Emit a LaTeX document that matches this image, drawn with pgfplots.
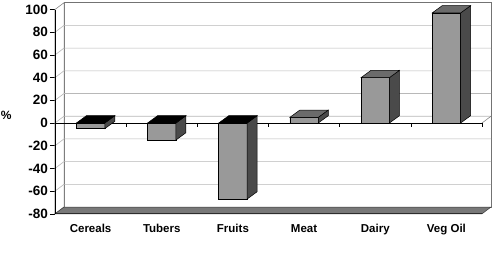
\documentclass[border=0pt]{standalone}
\usepackage{pgfplots}
\pgfplotsset{compat=1.18}
\usepackage{pgfplotstable}
\usepackage{fontspec}
\setmainfont{Liberation Sans}

\definecolor{barfront}{gray}{0.6}
\definecolor{barside}{gray}{0.29}
\definecolor{bartop}{gray}{0.42}
\definecolor{floorfill}{gray}{0.47}
\definecolor{gridc}{gray}{0.72}
\definecolor{wallline}{gray}{0.45}

% change per food group, in percent
\pgfplotstableread{
x    v
0.5  -5
1.5  -15
2.5  -67
3.5  5
4.5  40
5.5  97
}\changes

% depth of the walls and of the bars
\def\wdx{9pt}
\def\wdy{6.8pt}
\def\bdx{10}
\def\bdy{7.3}
\def\bhw{14.2}

\begin{document}
\begin{tikzpicture}
\useasboundingbox (0,0) rectangle (497pt,258pt);
\begin{axis}[
  at={(55pt,44.2pt)}, anchor=south west,
  x=71.17pt, y=1.135pt,
  xmin=0, xmax=6, ymin=-80, ymax=100,
  clip=false,
  axis line style={draw=none},
  ytick={-80,-60,...,100},
  ytick pos=left, tick align=outside,
  major tick length=5pt,
  ytick style={black, line width=0.6pt},
  xtick={0.5,1.5,...,5.5},
  xticklabels={Cereals,Tubers,Fruits,Meat,Dairy,Veg Oil},
  xtick style={draw=none},
  /pgf/number format/assume math mode=true,
  yticklabel style={font=\bfseries\fontsize{13.5}{15}\selectfont, inner sep=1pt, xshift=-1pt},
  xticklabel style={font=\bfseries\fontsize{11.5}{13}\selectfont, yshift=-2pt},
  ylabel={\%},
  ylabel style={rotate=-90, at={(axis description cs:-0.114,0.48)}, anchor=center,
    font=\bfseries\fontsize{12}{14}\selectfont},
]
% back wall and left wall
\draw[wallline, fill=white, line width=0.5pt]
  ([xshift=\wdx,yshift=\wdy]axis cs:0,-80) rectangle ([xshift=\wdx,yshift=\wdy]axis cs:6,100);
\draw[wallline, fill=white, line width=0.5pt]
  (axis cs:0,-80) -- (axis cs:0,100) -- ([xshift=\wdx,yshift=\wdy]axis cs:0,100)
  -- ([xshift=\wdx,yshift=\wdy]axis cs:0,-80) -- cycle;
% gridlines along the left wall and across the back wall
\pgfplotsinvokeforeach{-60,-40,-20,0,20,40,60,80}{
  \draw[gridc, line width=0.6pt] (axis cs:0,#1) -- ([xshift=\wdx,yshift=\wdy]axis cs:0,#1)
    -- ([xshift=\wdx,yshift=\wdy]axis cs:6,#1);
}
% floor
\draw[fill=floorfill, draw=gray!45!black, line width=0.5pt]
  (axis cs:0,-80) -- (axis cs:6,-80) -- ([xshift=\wdx,yshift=\wdy]axis cs:6,-80)
  -- ([xshift=\wdx,yshift=\wdy]axis cs:0,-80) -- cycle;
\draw[gray!35!black, line width=1.3pt] (axis cs:0,-80) -- (axis cs:6,-80);
% value axis
\draw[black, line width=0.6pt] (axis cs:0,-80) -- (axis cs:0,100);
% category axis at zero with its ticks
\draw[wallline, line width=0.5pt] (axis cs:6,0) -- ([xshift=\wdx,yshift=\wdy]axis cs:6,0);
\draw[black, line width=0.6pt] (axis cs:0,0) -- (axis cs:6,0);
\pgfplotsinvokeforeach{1,2,3,4,5,6}{
  \draw[black, line width=0.6pt] (axis cs:#1,0) -- ([yshift=-3.5pt]axis cs:#1,0);
}
% front faces of the bars
\addplot[ybar, bar width=28.4pt, fill=barfront, draw=black, line width=0.5pt]
  table[x=x, y=v]{\changes};
% side and top faces of the bars
\addplot[
  scatter, only marks,
  mark=*, mark size=0pt, mark options={draw=none, fill=none},
  visualization depends on={rawy \as \val},
  scatter/@pre marker code/.code={%
    \pgfmathsetmacro\H{-\val*1.135}%
    \filldraw[fill=barside, draw=black, line width=0.5pt]
      (\bhw pt,0pt) -- ++(\bdx pt,\bdy pt) -- ++(0pt,\H pt) -- ++(-\bdx pt,-\bdy pt) -- cycle;
    \ifdim\val pt<0pt
      \filldraw[fill=black, draw=black, line width=0.5pt]
        (-\bhw pt,\H pt) -- (\bhw pt,\H pt) -- ++(\bdx pt,\bdy pt) -- ++(-2*\bhw pt,0pt) -- cycle;
    \else
      \filldraw[fill=bartop, draw=black, line width=0.5pt]
        (-\bhw pt,0pt) -- (\bhw pt,0pt) -- ++(\bdx pt,\bdy pt) -- ++(-2*\bhw pt,0pt) -- cycle;
    \fi
    \begin{scope}
  },
  scatter/@post marker code/.code={\end{scope}},
] table[x=x, y=v]{\changes};
\end{axis}
\end{tikzpicture}
\end{document}
